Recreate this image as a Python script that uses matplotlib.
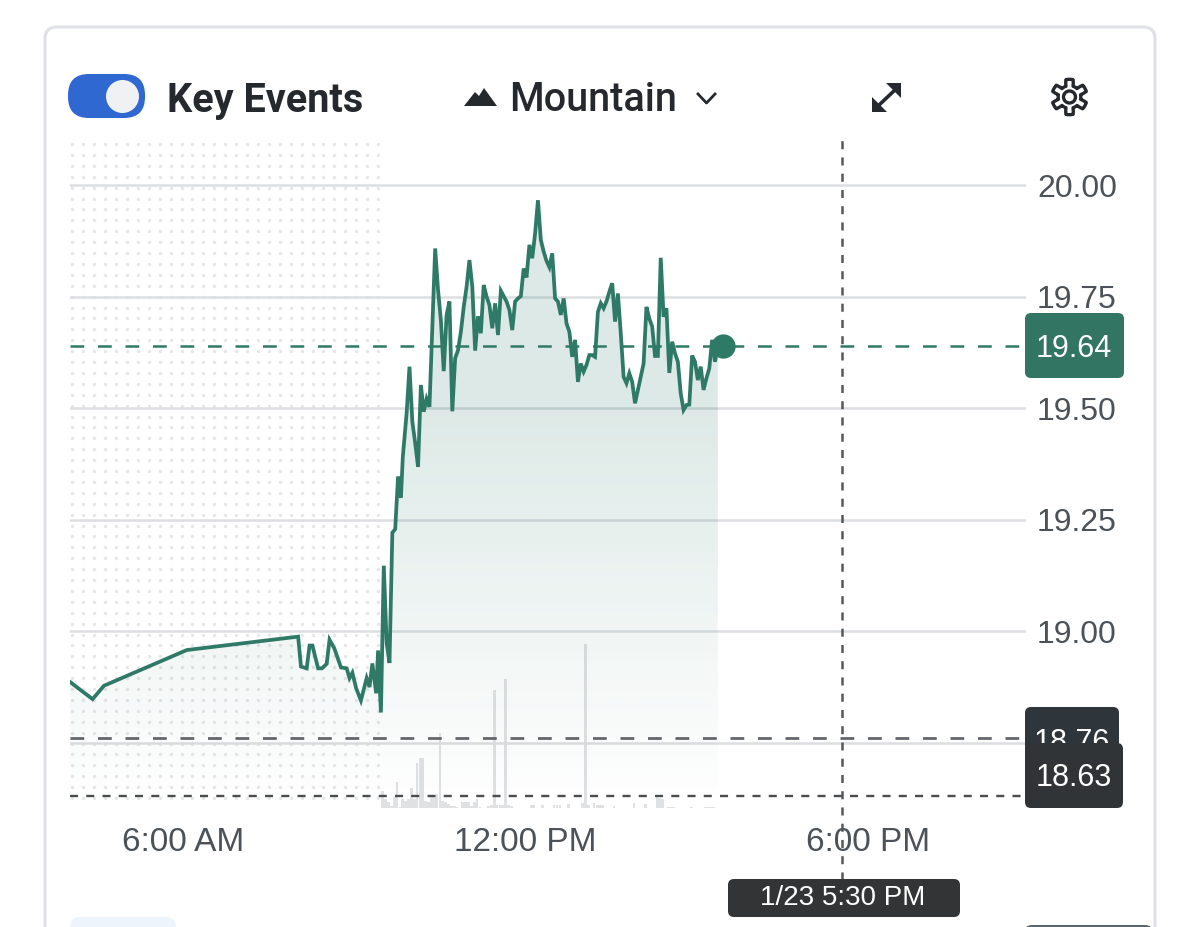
import numpy as np
import matplotlib
matplotlib.use("Agg")
import matplotlib.pyplot as plt
from matplotlib.patches import FancyBboxPatch, Circle, Polygon
from matplotlib.colors import LinearSegmentedColormap

plt.rcParams['font.family'] = ['Liberation Sans', 'DejaVu Sans']
plt.rcParams['lines.scale_dashes'] = False

# Price data, time is minutes since midnight
pre_minutes = [241, 265, 277, 364, 481, 484, 490, 493, 496, 502, 506, 511, 514, 519, 526,
               532, 535, 538, 542, 547, 553, 556, 559, 563, 565, 568]
pre_prices = [18.887, 18.848, 18.878, 18.958, 18.988, 18.921, 18.917, 18.968, 18.968, 18.917,
              18.917, 18.927, 18.981, 18.962, 18.919, 18.917, 18.895, 18.907, 18.872, 18.845,
              18.895, 18.875, 18.928, 18.861, 18.957, 18.818]

day_minutes = [571, 574, 577, 580, 583, 586, 589, 591, 595, 598, 601, 604, 607, 610, 613, 616, 619,
               625, 628, 631, 634, 637, 640, 643, 646, 649, 652, 655, 658, 661, 664, 667, 670, 673,
               676, 679, 682, 685, 688, 691, 694, 697, 700, 703, 706, 709, 712, 715, 718, 721, 724,
               727, 730, 733, 736, 739, 742, 745, 748, 751, 754, 757, 760, 763, 766, 769, 772, 775,
               778, 781, 784, 787, 790, 793, 796, 799, 802, 805, 808, 811, 814, 817, 820, 823, 826,
               829, 832, 835, 838, 841, 844, 847, 850, 853, 856, 859, 862, 865, 868, 871, 874, 877,
               880, 883, 886, 889, 892, 895, 898, 901, 904, 907, 910, 913, 916, 919, 922]
day_prices = [19.147, 18.974, 18.929, 19.221, 19.229, 19.347, 19.299, 19.391, 19.489, 19.593,
              19.470, 19.422, 19.369, 19.552, 19.492, 19.521, 19.503,
              19.858, 19.765, 19.697, 19.583, 19.709, 19.739, 19.493, 19.612, 19.630, 19.671,
              19.727, 19.772, 19.832, 19.772, 19.629, 19.706, 19.668, 19.776, 19.750, 19.731,
              19.679, 19.735, 19.664, 19.763, 19.751, 19.739, 19.720, 19.675, 19.739, 19.746,
              19.751, 19.813, 19.793, 19.866, 19.836, 19.892, 19.966, 19.877, 19.851, 19.830,
              19.816, 19.847, 19.746, 19.739, 19.709, 19.746, 19.690, 19.671, 19.615, 19.653,
              19.559, 19.600, 19.582, 19.597, 19.619, 19.619, 19.615, 19.716, 19.735, 19.724,
              19.739, 19.761, 19.780, 19.694, 19.757, 19.668, 19.570, 19.556, 19.578, 19.559,
              19.511, 19.541, 19.570, 19.600, 19.727, 19.701, 19.683, 19.617, 19.617, 19.837,
              19.705, 19.724, 19.579, 19.649, 19.623, 19.604, 19.533, 19.496, 19.507, 19.508,
              19.618, 19.604, 19.563, 19.593, 19.541, 19.567, 19.589, 19.653, 19.604, 19.64]

# Volume, no scale in the picture so units are arbitrary
vol_minutes = [570, 573, 576, 579, 582, 585, 588, 591, 594, 597, 600, 603, 606, 609, 612, 615, 618,
               621, 624, 627, 630, 633, 636, 639, 642, 645, 648, 654, 657, 660, 663, 666, 669, 672,
               681, 684, 687, 690, 693, 696, 699, 702, 705, 726, 729, 738, 750, 753, 756, 765, 780,
               783, 786, 792, 795, 798, 801, 813, 834, 846, 858, 861, 864, 870, 873, 876, 894, 909,
               912, 915, 918]
vol_sizes = [17, 9, 6, 2, 11, 26, 1, 9, 7, 9, 20, 9, 45, 50, 50, 7, 6,
             11, 12, 14, 75, 7, 6, 4, 2, 2, 1, 6, 6, 6, 2, 6, 9, 1,
             2, 3, 118, 3, 3, 3, 129, 3, 2, 3, 3, 3, 3, 3, 3, 4, 5,
             164, 3, 5, 3, 3, 3, 2, 5, 4, 11, 10, 9, 1, 1, 1, 1, 1,
             1, 1, 1]

price_ticks = [18.75, 19.00, 19.25, 19.50, 19.75, 20.00]
time_ticks = [360, 720, 1080]
time_labels = ["6:00 AM", "12:00 PM", "6:00 PM"]

last_price = 19.64
last_minute = 927
open_price = 18.76
close_price = 18.63
cross_minute = 1052

GREEN = "#2f7a66"
W, H = 1200, 927


def px_axes(left, top, right, bottom, **kw):
    return fig.add_axes([left/W, 1-bottom/H, (right-left)/W, (bottom-top)/H], **kw)


def badge(x0, y0, x1, y1, color, r=6, z=1):
    over.add_patch(FancyBboxPatch((x0+r, y0+r), x1-x0-2*r, y1-y0-2*r,
                                  boxstyle="round,pad=%d,rounding_size=%d" % (r, r),
                                  fc=color, ec="none", zorder=z))


fig = plt.figure(figsize=(12, 9.27), dpi=100, facecolor="white")

# background: card and the pre-market dots
back = px_axes(0, 0, W, H, zorder=0)
back.set_xlim(0, W)
back.set_ylim(H, 0)
back.axis("off")
back.add_patch(FancyBboxPatch((57, 39), 1086, 1000, boxstyle="round,pad=12,rounding_size=12",
                              fc="white", ec="#dfe1e4", lw=2.2))
dx, dy = np.meshgrid(np.arange(72.3, 381, 10.92), np.arange(144, 806, 10.9))
back.scatter(dx.ravel(), dy.ravel(), s=6, marker="o", color="#e6e7e8", linewidths=0)

# chart
ax = px_axes(70, 140, 1026, 808, zorder=2)
ax.patch.set_visible(False)
xlim = (241.3, 1245.8)
ylim = (18.604, 20.101)

vol = ax.twinx()
vol.set_zorder(1)
ax.set_zorder(2)
vol.bar(vol_minutes, vol_sizes, width=2.8, color="#dfe1e3", linewidth=0)
vol.set_ylim(0, 668)
vol.axis("off")

ax.set_xlim(xlim)
ax.set_ylim(ylim)
for s in ax.spines.values():
    s.set_visible(False)
ax.yaxis.tick_right()
ax.set_yticks(price_ticks)
ax.set_yticklabels(["%.2f" % p for p in price_ticks])
ax.set_xticks(time_ticks)
ax.set_xticklabels(time_labels)
ax.tick_params(axis="y", length=0, pad=8, labelsize=23, labelcolor="#4c5257")
ax.tick_params(axis="x", length=0, pad=14, labelsize=24, labelcolor="#4c5257")
ax.grid(axis="y", color="#dcdee1", lw=1.8, zorder=0)
ax.set_axisbelow(True)

minutes = pre_minutes + day_minutes
prices = pre_prices + day_prices

# mountain fill with fade to the bottom
poly = ax.fill_between(minutes, prices, ylim[0], facecolor="none", edgecolor="none")
fade = LinearSegmentedColormap.from_list("fade", [(0.184, 0.478, 0.4, 0.0), (0.184, 0.478, 0.4, 0.16)])
ramp = np.linspace(0, 1, 256).reshape(-1, 1)
im = ax.imshow(ramp, cmap=fade, origin="lower", aspect="auto", zorder=1.5,
               extent=(xlim[0], xlim[1], ylim[0], 19.5), interpolation="bilinear")
top = ax.fill_between(minutes, prices, 19.5, where=np.array(prices) > 19.5, interpolate=True,
                      facecolor=GREEN, alpha=0.16, edgecolor="none", zorder=1.5)
im.set_clip_path(poly.get_paths()[0], transform=ax.transData)
ax.set_xlim(xlim)
ax.set_ylim(ylim)

ax.axhline(open_price, color="#63676b", lw=2, dashes=(9.9, 9.9), zorder=2.5)
ax.axhline(close_price, color="#4a4d50", lw=1.7, dashes=(5.8, 5.9), zorder=2.5)
ax.axhline(last_price, color=GREEN, lw=1.8, dashes=(9.9, 9.9), zorder=2.5)
ax.axvline(cross_minute, ymin=-0.108, ymax=1, color="#55585b", lw=1.8, dashes=(5.8, 5.9),
           clip_on=False, zorder=2.5)
ax.plot(minutes, prices, color=GREEN, lw=2.7, solid_joinstyle="miter", zorder=3)
ax.plot([last_minute], [last_price], "o", color=GREEN, ms=17.5, mew=0, zorder=4)

# header and value tags on top
over = px_axes(0, 0, W, H, zorder=3)
over.set_xlim(0, W)
over.set_ylim(H, 0)
over.axis("off")

badge(1025, 313, 1124, 378, "#317562", z=1)
over.text(1074, 349, "19.64", color="white", fontsize=22, ha="center", va="center", zorder=2)
# the 18.63 tag sits on top of the 18.76 one and cuts its text
badge(1025, 707, 1119, 775, "#2f363b", z=3)
over.text(1072, 743, "18.76", color="white", fontsize=22, ha="center", va="center", zorder=4)
badge(1025, 743, 1123, 808, "#313436", z=5)
over.text(1074, 778, "18.63", color="white", fontsize=22, ha="center", va="center", zorder=6)
badge(728, 879, 960, 917, "#333435", z=1)
over.text(843, 898, "1/23 5:30 PM", color="white", fontsize=20, ha="center", va="center", zorder=2)

# toggle
badge(68, 74, 145, 118, "#2f68d0", r=21)
over.add_patch(Circle((122.5, 96.5), 16.5, fc="#f0f1f3", ec="none", zorder=2))
over.text(167, 101, "Key Events", color="#25292e", fontsize=28.5, fontweight="bold",
          ha="left", va="center", family="Roboto")

# chart type selector
over.add_patch(Polygon([(464, 106), (475, 92), (479, 96), (484, 88), (497, 106)], fc="#25292e", ec="none"))
over.text(509, 100, "Mountain", color="#25292e", fontsize=28.5, fontweight="medium", ha="left",
          va="center", family="Roboto")
over.plot([698, 706.5, 715], [94, 103, 94], color="#25292e", lw=2)

# expand icon
over.plot([878, 896], [106, 89], color="#25292e", lw=2.6)
over.add_patch(Polygon([(872, 112), (872, 97), (887, 112)], fc="#25292e", ec="none"))
over.add_patch(Polygon([(901, 83), (901, 98), (886, 83)], fc="#25292e", ec="none"))

# gear icon
ang = np.linspace(0, 2*np.pi, 361)[:-1]
rad = 14.5 + 3.2*np.clip(3*np.cos(6*ang), -1, 1)
over.add_patch(Polygon(np.c_[1069.5 + rad*np.sin(ang), 97 + rad*np.cos(ang)], fc="none",
                       ec="#25292e", lw=2.4))
over.add_patch(Circle((1069.5, 97), 6, fc="none", ec="#25292e", lw=2.4))

# things cut off at the bottom of the screenshot
badge(70, 917, 176, 960, "#eef4fb", r=10)
badge(1024, 925, 1153, 960, "#5b6770", r=8)

fig.savefig("out.png", dpi=100)
